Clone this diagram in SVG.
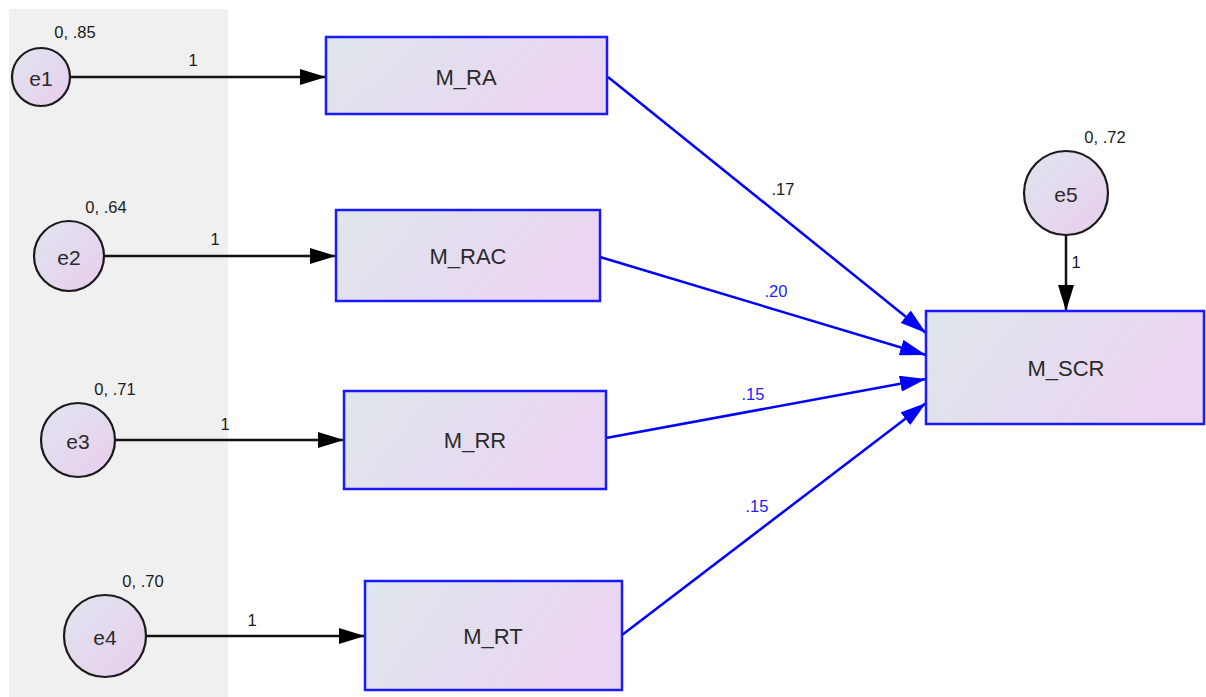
<svg xmlns="http://www.w3.org/2000/svg" width="1206" height="697" viewBox="0 0 1206 697">
  <defs>
    <linearGradient id="boxFill" x1="0" y1="0" x2="1" y2="0.3">
      <stop offset="0" stop-color="#dee6eb"/>
      <stop offset="1" stop-color="#ebd5f2"/>
    </linearGradient>
    <linearGradient id="errFill" x1="0" y1="0" x2="1" y2="1">
      <stop offset="0" stop-color="#dfe5ee"/>
      <stop offset="1" stop-color="#e9cdee"/>
    </linearGradient>
    <marker id="arrowBlack" viewBox="0 0 26 16" refX="26" refY="8" markerWidth="26" markerHeight="16" markerUnits="userSpaceOnUse" orient="auto">
      <path d="M0,0 L26,8 L0,16 Z" fill="#000"/>
    </marker>
    <marker id="arrowBlue" viewBox="0 0 26 16" refX="26" refY="8" markerWidth="26" markerHeight="16" markerUnits="userSpaceOnUse" orient="auto">
      <path d="M0,0 L26,8 L0,16 Z" fill="#0000ff"/>
    </marker>
  </defs>
  <style>
    .box { fill: url(#boxFill); stroke: #1a1aff; stroke-width: 2.5; }
    .err { fill: url(#errFill); stroke: #1a1a1a; stroke-width: 2.2; }
    .name { font-family: "Liberation Sans", Arial, sans-serif; font-size: 22px; fill: #2a2a2a; text-anchor: middle; dominant-baseline: central; }
    .ename { font-family: "Liberation Sans", Arial, sans-serif; font-size: 21px; fill: #2a2a2a; text-anchor: middle; dominant-baseline: central; }
    .small { font-family: "Liberation Sans", Arial, sans-serif; font-size: 16.5px; fill: #1a1a1a; text-anchor: middle; }
    .coef { font-family: "Liberation Sans", Arial, sans-serif; font-size: 16.5px; fill: #2020ff; text-anchor: middle; }
    .blk { stroke: #111; stroke-width: 2.5; fill: none; marker-end: url(#arrowBlack); }
    .blu { stroke: #0000ff; stroke-width: 2.5; fill: none; marker-end: url(#arrowBlue); }
  </style>

  <rect width="1206" height="697" fill="#ffffff"/>
  <!-- shaded column behind the error terms -->
  <rect x="9" y="9" width="219" height="688" fill="#f0f0f0"/>

  <g id="connectors">
    <line class="blk" x1="70" y1="77" x2="326" y2="77"/>
    <line class="blk" x1="104" y1="256" x2="336" y2="256"/>
    <line class="blk" x1="115" y1="440" x2="344" y2="440"/>
    <line class="blk" x1="146" y1="636" x2="365" y2="636"/>
    <line class="blk" x1="1066" y1="235" x2="1066" y2="311"/>
    <line class="blu" x1="608" y1="77" x2="926" y2="333"/>
    <line class="blu" x1="600" y1="257" x2="926" y2="355"/>
    <line class="blu" x1="606" y1="438" x2="926" y2="379"/>
    <line class="blu" x1="622" y1="635" x2="926" y2="403"/>
    <text class="small" x="193" y="66">1</text>
    <text class="small" x="215" y="245">1</text>
    <text class="small" x="225" y="430">1</text>
    <text class="small" x="252" y="626">1</text>
    <text class="small" x="1076" y="268">1</text>
    <text class="small" x="783" y="195" fill="#222">.17</text>
    <text class="coef" x="776" y="297">.20</text>
    <text class="coef" x="753" y="400">.15</text>
    <text class="coef" x="757" y="512">.15</text>
  </g>

  <g id="e1">
    <circle class="err" cx="41" cy="77" r="29"/>
    <text class="ename" x="41" y="78">e1</text>
    <text class="small" x="75" y="38">0, .85</text>
  </g>
  <g id="e2">
    <circle class="err" cx="69" cy="256" r="35"/>
    <text class="ename" x="69" y="257">e2</text>
    <text class="small" x="106" y="213">0, .64</text>
  </g>
  <g id="e3">
    <circle class="err" cx="78" cy="440" r="37"/>
    <text class="ename" x="78" y="441">e3</text>
    <text class="small" x="115" y="395">0, .71</text>
  </g>
  <g id="e4">
    <circle class="err" cx="105" cy="636" r="41"/>
    <text class="ename" x="105" y="637">e4</text>
    <text class="small" x="143" y="587">0, .70</text>
  </g>
  <g id="e5">
    <circle class="err" cx="1066" cy="193" r="42"/>
    <text class="ename" x="1066" y="194">e5</text>
    <text class="small" x="1105" y="143">0, .72</text>
  </g>

  <g id="M_RA">
    <rect class="box" x="326" y="37" width="281" height="77"/>
    <text class="name" x="466" y="77">M_RA</text>
  </g>
  <g id="M_RAC">
    <rect class="box" x="336" y="210" width="264" height="91"/>
    <text class="name" x="468" y="256">M_RAC</text>
  </g>
  <g id="M_RR">
    <rect class="box" x="344" y="391" width="262" height="98"/>
    <text class="name" x="475" y="440">M_RR</text>
  </g>
  <g id="M_RT">
    <rect class="box" x="365" y="581" width="257" height="109"/>
    <text class="name" x="493" y="636">M_RT</text>
  </g>
  <g id="M_SCR">
    <rect class="box" x="926" y="311" width="278" height="113"/>
    <text class="name" x="1066" y="368">M_SCR</text>
  </g>
</svg>
